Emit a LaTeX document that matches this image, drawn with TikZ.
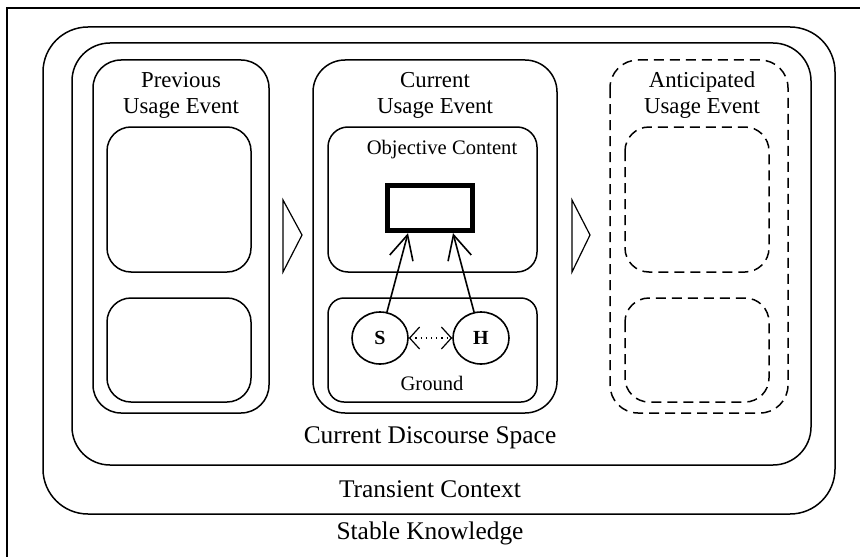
\documentclass[tikz,border=0pt]{standalone}
\usepackage{fontspec}
\setmainfont{Liberation Serif}
\usetikzlibrary{arrows.meta,shapes.geometric}

\tikzset{
  box/.style={draw, line width=0.75pt, rounded corners=#1},
  dashbox/.style={box=#1, dash pattern=on 5pt off 3pt},
  title/.style={align=center, inner sep=0pt, font=\fontsize{11.4}{13}\selectfont},
  small/.style={inner sep=0pt, font=\fontsize{10.3}{12}\selectfont},
  big/.style={inner sep=0pt, font=\fontsize{12.7}{15}\selectfont},
  person/.style={draw, ellipse, line width=0.8pt, minimum width=28pt,
    minimum height=26pt, inner sep=0pt, font=\fontsize{10}{12}\selectfont\bfseries},
  seen/.style={-{Straight Barb[length=12pt,width=12pt]}, line width=0.8pt},
  talk/.style={{Straight Barb[length=5pt,width=11pt]}-{Straight Barb[length=5pt,width=11pt]},
    line width=0.6pt, dotted},
}

\begin{document}
\begin{tikzpicture}[x=0.5pt, y=-0.5pt]
  \clip (0,0) rectangle (860,556);
  \draw[line width=0.75pt] (7,8) rectangle (870,570);

  % contexts
  \draw[box=22.5pt] (43,27) rectangle (835,514);
  \draw[box=19pt] (72,43) rectangle (811,465);

  % usage events
  \draw[box=14pt] (93,60) rectangle (269,413);
  \draw[box=12pt] (107,127) rectangle (251,272);
  \draw[box=12pt] (107,298) rectangle (251,402);

  \draw[box=16pt] (313,60) rectangle (557,413);
  \draw[box=10pt] (328,127) rectangle (537,272);
  \draw[box=8pt] (328,298) rectangle (537,402);

  \draw[dashbox=14pt] (610,60) rectangle (788,413);
  \draw[dashbox=12pt] (625,127) rectangle (769,272);
  \draw[dashbox=12pt] (625,298) rectangle (769,402);

  % flow
  \draw[line width=0.6pt] (283,200) -- (302,235) -- (283,272) -- cycle;
  \draw[line width=0.6pt] (572,200) -- (590,235) -- (572,272) -- cycle;

  \node[title] (prev) at (181,95) {Previous\\Usage Event};
  \node[title] (cur) at (435,95) {Current\\Usage Event};
  \node[title] (ant) at (702,95) {Anticipated\\Usage Event};
  \node[small] (obj) at (442,150) {Objective Content};
  \node[small] (gnd) at (432,383) {Ground};
  \node[big] (cds) at (430,438) {Current Discourse Space};
  \node[big] (tc) at (430,489) {Transient Context};
  \node[big] (sk) at (430,533) {Stable Knowledge};

  \node[draw, line width=2.4pt, minimum width=42.75pt, minimum height=22.75pt,
    inner sep=0pt] (concept) at (430,208) {};
  \node[person] (S) at (380,338) {S};
  \node[person] (H) at (481,338) {H};

  \draw[seen] (S.75) -- ([xshift=-11pt]concept.south);
  \draw[seen] (H.105) -- ([xshift=11.5pt]concept.south);
  \draw[talk] (S) -- (H);
\end{tikzpicture}
\end{document}
